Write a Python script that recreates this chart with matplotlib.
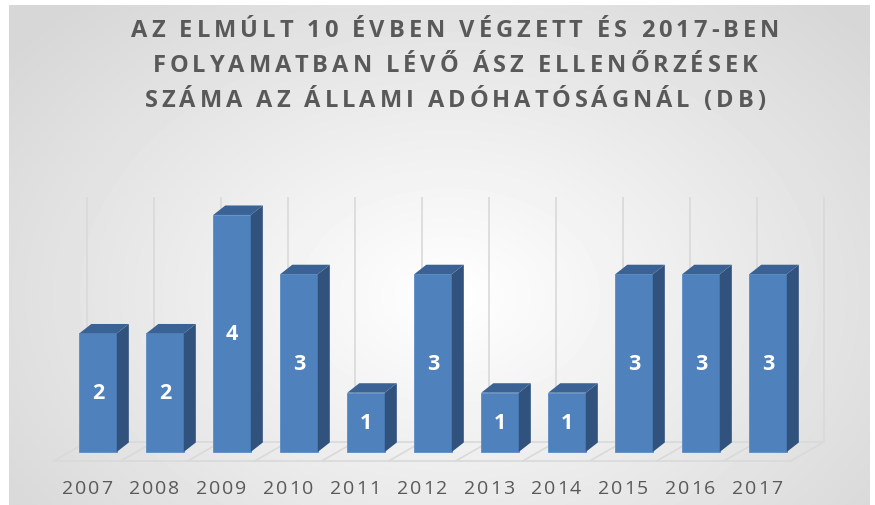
import numpy as np
import matplotlib.pyplot as plt
from matplotlib.patches import Polygon

years = ['2007', '2008', '2009', '2010', '2011', '2012', '2013', '2014', '2015', '2016', '2017']
counts = [2, 2, 4, 3, 1, 3, 1, 1, 3, 3, 3]
title_lines = ['AZ ELMÚLT 10 ÉVBEN VÉGZETT ÉS 2017-BEN',
               'FOLYAMATBAN LÉVŐ ÁSZ ELLENŐRZÉSEK',
               'SZÁMA AZ ÁLLAMI ADÓHATÓSÁGNÁL (DB)']

W, H = 875, 506
fig = plt.figure(figsize=(W / 100, H / 100), dpi=100)
fig.patch.set_facecolor('white')
renderer = fig.canvas.get_renderer()


def char_width(ch, **kw):
    # advance width of one char, measured as width('x'+ch+'x') - width('xx')
    t1 = fig.text(0, 0, 'x' + ch + 'x', **kw)
    t2 = fig.text(0, 0, 'xx', **kw)
    w = t1.get_window_extent(renderer).width - t2.get_window_extent(renderer).width
    t1.remove()
    t2.remove()
    return w


def spaced_text(xc, yc, s, spacing, **kw):
    # xc, yc in pixels from top-left of the figure
    widths = [char_width(ch, **kw) for ch in s]
    total = sum(widths) + spacing * (len(s) - 1)
    x = xc - total / 2
    for ch, w in zip(s, widths):
        fig.text((x + w / 2) / W, 1 - yc / H, ch, ha='center', va='center', **kw)
        x += w + spacing


# radial grey background
bg = fig.add_axes([9 / W, 0, 861 / W, 500 / H])
yy, xx = np.mgrid[0:500, 0:861]
r = np.sqrt(((xx - 440) / 560) ** 2 + ((yy - 290) / 400) ** 2)
shade = 1 - 0.16 * np.clip(r, 0, 1)
bg.imshow(shade, cmap='gray', vmin=0, vmax=1, aspect='auto', interpolation='bilinear')
bg.axis('off')

# chart axes: x = category index, y = count
ax = fig.add_axes([31 / W, 8.6 / H, 804 / W, 317 / H])
ax.set_xlim(-1, 11)
ax.set_ylim(-0.75, 4.6)
ax.axis('off')

x = np.arange(len(years))
w = 0.56
dx, dy = 0.18, 0.16            # bar depth
fx, bx = -0.657, -0.164        # floor front/back offsets of category boundaries
fy, by = -0.15, 0.17           # floor front/back y
grid_col = '#D9D9D9'

bounds = np.arange(len(years) + 1)
ax.vlines(bounds + bx, by, 4.3, color=grid_col, lw=1.2, zorder=1)
ax.hlines([fy, by], [fx, bx], [len(years) + fx, len(years) + bx], color=grid_col, lw=1.2, zorder=1)
for b in bounds:
    ax.plot([b + fx, b + bx], [fy, by], color=grid_col, lw=1.2, zorder=1)

ax.bar(x, counts, width=w, color='#4F81BD', edgecolor='#5B8DC8', lw=0.6, zorder=3)
for xi, v in zip(x, counts):
    r_ = xi + w / 2
    l_ = xi - w / 2
    ax.add_patch(Polygon([(r_, 0), (r_ + dx, dy), (r_ + dx, v + dy), (r_, v)],
                         closed=True, facecolor='#30527C', edgecolor='none', zorder=3))
    ax.add_patch(Polygon([(l_, v), (r_, v), (r_ + dx, v + dy), (l_ + dx, v + dy)],
                         closed=True, facecolor='#3A6294', edgecolor='none', zorder=3))
    ax.text(xi, v / 2, str(v), ha='center', va='center', color='white',
            fontsize=15.5, fontweight='bold', family='Open Sans', zorder=4)

# category labels with letter spacing
for xi, yr in zip(x, years):
    px, py = ax.transData.transform((xi + bx, -0.6))
    spaced_text(px, H - py, yr, 1.8, fontsize=14, family='Open Sans', color='#595959')

for i, line in enumerate(title_lines):
    spaced_text(455, 31 + 35 * i, line, 4.0, fontsize=17, fontweight='bold',
                family='Open Sans', color='#595959')

fig.savefig('out.png', dpi=100)
